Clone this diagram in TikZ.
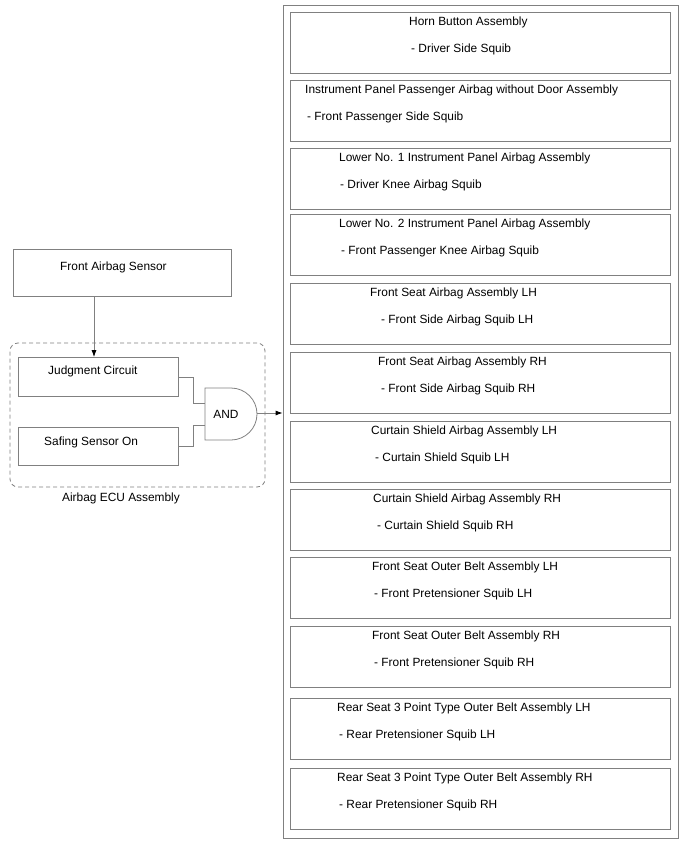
\documentclass[tikz,border=0pt]{standalone}
\usepackage{fontspec}
\setmainfont{Liberation Sans}
\usetikzlibrary{arrows.meta}
\definecolor{edgegray}{HTML}{808080}
\tikzset{
  box/.style={draw=edgegray,line width=0.8pt,rectangle,inner sep=0pt},
  txt/.style={anchor=west,inner sep=0pt,font=\fontsize{11.9}{13}\selectfont},
  wire/.style={draw=edgegray,line width=0.8pt},
  arr/.style={wire,-{Latex[length=7pt,width=5pt,color=black]}}
}
\begin{document}
\begin{tikzpicture}[x=1pt,y=-1pt]
\useasboundingbox (0,0) rectangle (688,852);
% Squib group (right)
\node[box,minimum width=395pt,minimum height=833pt] (squibs) at (480.5,422) {};
\foreach \t/\tx/\sx/\ttl/\sub [count=\n] in {
  12/409/411/Horn Button Assembly/- Driver Side Squib,
  80/305/307/Instrument Panel Passenger Airbag without Door Assembly/- Front Passenger Side Squib,
  148/339/340/Lower No. 1 Instrument Panel Airbag Assembly/- Driver Knee Airbag Squib,
  214/339/341/Lower No. 2 Instrument Panel Airbag Assembly/- Front Passenger Knee Airbag Squib,
  283/370/381/Front Seat Airbag Assembly LH/- Front Side Airbag Squib LH,
  352/378/381/Front Seat Airbag Assembly RH/- Front Side Airbag Squib RH,
  421/371/375/Curtain Shield Airbag Assembly LH/- Curtain Shield Squib LH,
  489/373/377/Curtain Shield Airbag Assembly RH/- Curtain Shield Squib RH,
  557/372/374/Front Seat Outer Belt Assembly LH/- Front Pretensioner Squib LH,
  626/372/374/Front Seat Outer Belt Assembly RH/- Front Pretensioner Squib RH,
  698/337/339/Rear Seat 3 Point Type Outer Belt Assembly LH/- Rear Pretensioner Squib LH,
  768/337/339/Rear Seat 3 Point Type Outer Belt Assembly RH/- Rear Pretensioner Squib RH} {
  \node[box,minimum width=380pt,minimum height=61pt] (part\n) at (480.5,\t+30.5) {};
  \node[txt] (part\n title) at (\tx,\t+10) {\ttl};
  \node[txt] (part\n sub) at (\sx,\t+37) {\sub};
}
% Sensor and ECU (left)
\node[box,minimum width=218pt,minimum height=47pt] (sensor) at (122.5,272.5) {};
\node[txt] (sensortx) at (60,267) {Front Airbag Sensor};
\node[draw=edgegray,line width=0.8pt,dash pattern=on 4pt off 3pt,rounded corners=8pt,
  minimum width=255pt,minimum height=144pt] (ecu) at (137.5,415) {};
\node[inner sep=0pt,font=\fontsize{11.9}{13}\selectfont] (ecutx) at (121,498) {Airbag ECU Assembly};
\node[box,minimum width=160pt,minimum height=39pt] (judge) at (98,377) {};
\node[txt] (judgetx) at (48,371) {Judgment Circuit};
\node[box,minimum width=160pt,minimum height=38pt] (safing) at (98,446.5) {};
\node[txt] (safingtx) at (44,442) {Safing Sensor On};
% AND gate
\draw[wire] (205,388) -- (231,388) arc (-90:90:26) -- (205,440) -- cycle;
\node[inner sep=0pt,font=\fontsize{11.9}{13}\selectfont] (gate) at (226,414) {AND};
\coordinate (in1) at (205,403);
\coordinate (in2) at (205,425);
\coordinate (gout) at (257,413);
\coordinate (drop) at (94,0);
\coordinate (bend) at (193,0);
% Connectors
\draw[arr] (sensor.south -| drop) -- (judge.north -| drop);
\draw[wire] (judge.east) -- (judge.east -| bend) |- (in1);
\draw[wire] (safing.east) -- (safing.east -| bend) |- (in2);
\draw[arr] (gout) -- (gout -| squibs.west);
\end{tikzpicture}
\end{document}
